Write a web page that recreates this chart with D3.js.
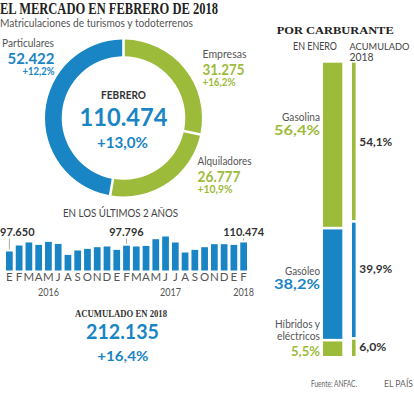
<!DOCTYPE html>
<html><head><meta charset="utf-8">
<script src="https://cdn.jsdelivr.net/npm/d3@7"></script>
<style>html,body{margin:0;padding:0;background:#fff;} svg{display:block;}</style>
</head><body>
<svg id="c" width="414" height="398"></svg>
<script>
// ---------- data ----------
const title = "EL MERCADO EN FEBRERO DE 2018";
const subtitle = "Matriculaciones de turismos y todoterrenos";
const segNames = ["Empresas", "Alquiladores", "Particulares"];
const segValues = [31275, 26777, 52422];
const segChanges = ["+16,2%", "+10,9%", "+12,2%"];
const febLabel = "FEBRERO";
const febTotal = 110474;
const febChange = "+13,0%";
const monthLabels = ["E","F","M","A","M","J","A","S","O","N","D","E","F","M","A","M","J","J","A","S","O","N","D","E","F"];
const monthValues = [75000, 98600, 110500, 101000, 112800, 104900, 61500, 78900, 85200, 91900, 94700, 81300, 97796, 94700, 97000, 123500, 134100, 110500, 71000, 81300, 91900, 103800, 103800, 101000, 110474];
const noteIndex = [0, 12, 24];
const noteText = ["97.650", "97.796", "110.474"];
const yearLabels = ["2016", "2017", "2018"];
const yearAt = [4, 16.5, 24];
const accTitle = "ACUMULADO EN 2018";
const accTotal = 212135;
const accChange = "+16,4%";
const fuelNames = [["Gasolina"], ["Gasóleo"], ["Híbridos y", "eléctricos"]];
const fuelJan = [56.4, 38.2, 5.5];
const fuelAcc = [54.1, 39.9, 6.0];

// ---------- style / layout ----------
const BLUE = "#1a85c4", GREEN = "#9dbb3b", GREY = "#555", DARK = "#333";
const SANS = "Lato, 'Open Sans', sans-serif";
const SERIF = "'Liberation Serif', 'DejaVu Serif', serif";
const segColors = [GREEN, GREEN, BLUE];
const fuelColors = [GREEN, BLUE, GREEN];

const loc = d3.formatLocale({decimal: ",", thousands: ".", grouping: [3], currency: ["", "€"]});
const fInt = loc.format(",");
const fPct = v => loc.format(".1f")(v) + "%";

const svg = d3.select("#c");

function txt(g, s, x, y, o) {
  const t = g.append("text").attr("x", x).attr("y", y).text(s)
    .attr("font-family", o.serif ? SERIF : SANS)
    .attr("font-size", o.size)
    .attr("font-weight", o.weight || 400)
    .attr("fill", o.color || GREY)
    .attr("text-anchor", o.anchor || "start");
  if (o.w) t.attr("textLength", o.w).attr("lengthAdjust", "spacingAndGlyphs");
  return t;
}

// ---------- header ----------
txt(svg, title, 0, 14, {serif: true, size: 16, weight: 700, color: "#222", w: 218});
txt(svg, subtitle, 0, 27, {size: 11, color: GREY, w: 193});

// ---------- donut ----------
const cx = 123.5, cy = 118;
const pie = d3.pie().sort(null).value(d => d).padAngle(0.026);
const arc = d3.arc().innerRadius(61.8).outerRadius(78.5);
const dg = svg.append("g").attr("transform", `translate(${cx},${cy})`);
dg.selectAll("path").data(pie(segValues)).join("path")
  .attr("d", arc).attr("fill", (d, i) => segColors[i]);

txt(svg, febLabel, cx, 99, {size: 12, weight: 700, color: DARK, anchor: "middle", w: 45});
txt(svg, fInt(febTotal), cx, 126, {size: 25, weight: 700, color: BLUE, anchor: "middle", w: 88});
txt(svg, febChange, cx - 1, 147.5, {size: 15, weight: 700, color: BLUE, anchor: "middle", w: 51});

// segment labels (Empresas, Alquiladores on right; Particulares on left)
const segLab = [
  {x: 202.5, y: 58, anchor: "start", wn: 44, wv: 42, wc: 33},
  {x: 197.5, y: 165, anchor: "start", wn: 54, wv: 43, wc: 35},
  {x: 54.5, y: 47, anchor: "end", wn: 52, wv: 47, wc: 32}
];
segNames.forEach((n, i) => {
  const L = segLab[i];
  txt(svg, n, i === 2 ? 2 : L.x, L.y, {size: 12, color: GREY, anchor: i === 2 ? "start" : L.anchor, w: L.wn});
  txt(svg, fInt(segValues[i]), L.x, L.y + 16.5, {size: 14.5, weight: 700, color: segColors[i], anchor: L.anchor, w: L.wv});
  txt(svg, segChanges[i], L.x, L.y + 27.5, {size: 10.5, weight: 700, color: segColors[i], anchor: L.anchor, w: L.wc});
});

// ---------- monthly bars ----------
txt(svg, "EN LOS ÚLTIMOS 2 AÑOS", 120.5, 216.8, {size: 11, color: "#444", anchor: "middle", w: 115});
const xB = d3.scaleBand().domain(d3.range(monthValues.length)).range([6, 247]).paddingInner(0.31).paddingOuter(0);
const yB = d3.scaleLinear().domain([0, 140000]).range([270.5, 235]);
const cxB = i => xB(Math.floor(i)) + xB.bandwidth() / 2 + (i % 1) * xB.step();

svg.append("g").selectAll("rect").data(monthValues).join("rect")
  .attr("x", (d, i) => xB(i)).attr("width", xB.bandwidth())
  .attr("y", d => yB(d)).attr("height", d => yB(0) - yB(d))
  .attr("fill", BLUE);

monthLabels.forEach((m, i) => txt(svg, m, cxB(i), 280.5, {size: 11.5, color: GREY, anchor: "middle"}));
yearLabels.forEach((y, i) => txt(svg, y, cxB(yearAt[i]), 296, {size: 11.5, color: GREY, anchor: "middle", w: 21}));

noteIndex.forEach((bi, k) => {
  const t = txt(svg, noteText[k], cxB(bi), 235.5, {size: 11, weight: 700, color: DARK, anchor: "middle"});
  const w = t.node().getComputedTextLength();
  if (cxB(bi) - w / 2 < 0) t.attr("x", 0).attr("text-anchor", "start");
  const y2 = yB(monthValues[bi]) - 2;
  if (y2 > 239) svg.append("line").attr("x1", cxB(bi)).attr("x2", cxB(bi))
    .attr("y1", 238.5).attr("y2", y2).attr("stroke", "#aaa").attr("stroke-width", 1);
});

// ---------- accumulated ----------
txt(svg, accTitle, 121, 317, {serif: true, size: 11, weight: 700, color: DARK, anchor: "middle", w: 92});
txt(svg, fInt(accTotal), 122.5, 338.7, {size: 20, weight: 700, color: BLUE, anchor: "middle", w: 73});
txt(svg, accChange, 122.8, 361.3, {size: 14, weight: 700, color: BLUE, anchor: "middle", w: 51});

// ---------- fuel stacked bars ----------
txt(svg, "POR CARBURANTE", 276.7, 34, {serif: true, size: 11, weight: 700, color: "#222", w: 117});
txt(svg, "EN ENERO", 293, 49.5, {size: 11, color: "#444", w: 44});
txt(svg, "ACUMULADO", 349.5, 49.5, {size: 10, color: "#444", w: 60});
txt(svg, "2018", 349.5, 61, {size: 11, color: "#444", w: 24});

const yP = d3.scaleLinear().domain([0, 100]).range([62.7, 356]);
const GAP = 2.6;
function stackBar(vals, x0, x1) {
  const ends = d3.cumsum(vals);
  const starts = ends.map((e, i) => e - vals[i]);
  const g = svg.append("g");
  g.selectAll("rect").data(vals).join("rect")
    .attr("x", x0).attr("width", x1 - x0)
    .attr("y", (d, i) => yP(starts[i]) + (i > 0 ? GAP / 2 : 0))
    .attr("height", (d, i) => yP(Math.min(ends[i], 100)) - yP(starts[i]) - (i > 0 ? GAP / 2 : 0) - (i < vals.length - 1 ? GAP / 2 : 0))
    .attr("fill", (d, i) => fuelColors[i]);
  return starts.map((s, i) => yP(s + vals[i] / 2));
}
const janMid = stackBar(fuelJan, 323, 342.3);
const accMid = stackBar(fuelAcc, 352, 355.6);

const janShift = [-10.7, 4.4, 7.8];
const nameW = [[38], [35], [45, 43]];
const valW = [46, 46, 29];
fuelNames.forEach((lines, i) => {
  const vy = janMid[i] + janShift[i];
  lines.forEach((ln, j) => {
    txt(svg, ln, 320, vy - 14 - (lines.length - 1 - j) * 11.5 + (lines.length > 1 ? -2.5 : 0), {size: 11, color: GREY, anchor: "end", w: nameW[i][j]});
  });
  txt(svg, fPct(fuelJan[i]), 320, vy, {size: 14, weight: 700, color: fuelColors[i], anchor: "end", w: valW[i]});
});
const accShift = [4, -7, 3.8];
const accW = [33, 33, 27];
fuelAcc.forEach((v, i) => {
  txt(svg, fPct(v), 359.3, accMid[i] + accShift[i], {size: 11, weight: 700, color: DARK, w: accW[i]});
});

txt(svg, "Fuente: ANFAC.", 311, 386.5, {size: 9, color: "#666", w: 46});
txt(svg, "EL PAÍS", 384, 386.5, {size: 9, color: "#666", w: 29});
</script>
</body></html>
